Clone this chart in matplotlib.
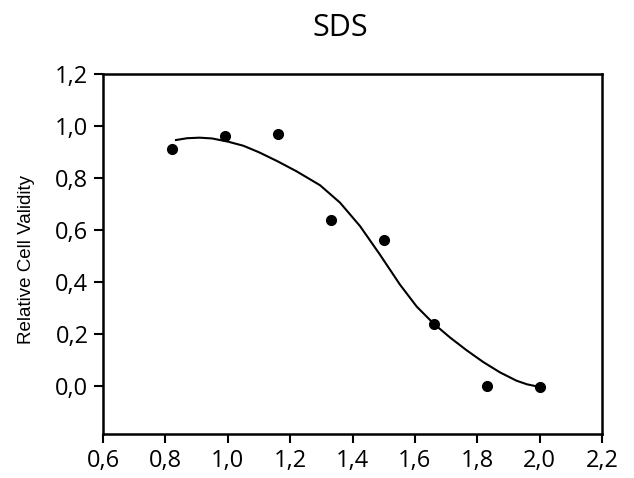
import matplotlib.pyplot as plt
from matplotlib.ticker import FuncFormatter

log_conc = [0.82, 0.99, 1.16, 1.33, 1.50, 1.66, 1.83, 2.00]
validity = [0.91, 0.96, 0.97, 0.64, 0.56, 0.24, 0.00, -0.005]

# fitted curve
fit_x = [0.834, 0.87, 0.91, 0.95, 1.00, 1.05, 1.10, 1.16, 1.22, 1.296, 1.36,
         1.424, 1.488, 1.552, 1.606, 1.659, 1.713, 1.766, 1.819, 1.873, 1.926,
         1.96, 2.00]
fit_y = [0.946, 0.953, 0.955, 0.952, 0.940, 0.924, 0.899, 0.864, 0.826, 0.772, 0.705,
         0.615, 0.505, 0.39, 0.305, 0.241, 0.186, 0.137, 0.092, 0.052, 0.02,
         0.006, -0.004]

x_ticks = [0.6, 0.8, 1.0, 1.2, 1.4, 1.6, 1.8, 2.0, 2.2]
y_ticks = [0.0, 0.2, 0.4, 0.6, 0.8, 1.0, 1.2]

fig = plt.figure(figsize=(6.34, 4.78), dpi=100)
ax = fig.add_axes([103 / 634, 1 - 434 / 478, 499 / 634, 360 / 478])

ax.plot(fit_x, fit_y, color="black", lw=1.5, solid_joinstyle="round")
ax.plot(log_conc, validity, "o", color="black", ms=7)

ax.set_xlim(0.6, 2.2)
ax.set_ylim(-0.185, 1.2)
ax.set_xticks(x_ticks)
ax.set_yticks(y_ticks)
comma = FuncFormatter(lambda v, p: f"{v:.1f}".replace(".", ","))
ax.xaxis.set_major_formatter(comma)
ax.yaxis.set_major_formatter(comma)

for s in ax.spines.values():
    s.set_linewidth(1.8)
ax.tick_params(direction="out", length=6.5, width=1.5, labelsize=17, pad=4)
for lab in ax.get_xticklabels() + ax.get_yticklabels():
    lab.set_family("Open Sans")

fig.text(27 / 634, 1 - 259 / 478, "Relative Cell Validity", fontsize=13.5,
         family="Liberation Sans", rotation=90, ha="center", va="center")
fig.text(340 / 634, 1 - 28 / 478, "SDS", fontsize=22, family="Open Sans",
         ha="center", va="center")

plt.savefig("out.png", dpi=100)
